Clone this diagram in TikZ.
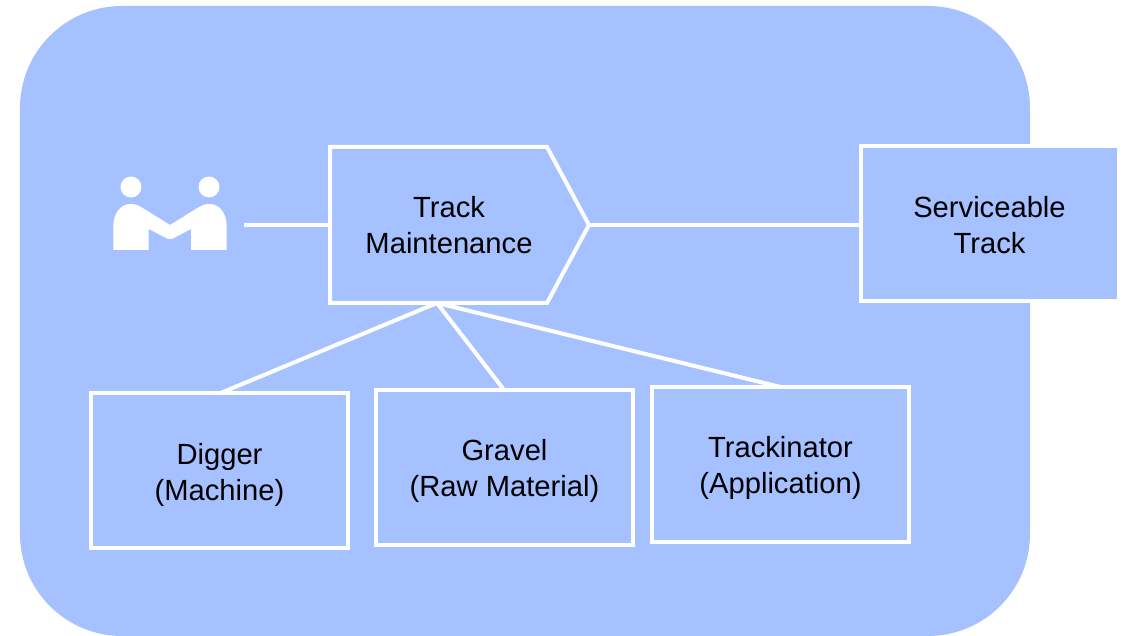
\documentclass[tikz,border=0pt]{standalone}
\usepackage{fontspec}
\setmainfont{Liberation Sans}
\definecolor{panelblue}{HTML}{A6C1FF}
\newcommand{\toppad}[1]{\rule{0pt}{#1}}
\tikzset{
  itembox/.style={draw=white,fill=panelblue,line width=0.04cm,outer sep=0pt,
    minimum width=2.57cm,minimum height=1.55cm,align=center,
    font=\fontsize{8.3pt}{10.24pt}\selectfont},
  whiteline/.style={draw=white,line width=0.04cm}
}
\begin{document}
\begin{tikzpicture}
\useasboundingbox (0,0) rectangle (11.25,6.36);
\fill[panelblue,rounded corners=1.02cm] (0.20,0) rectangle (10.30,6.30);
% two people shaking hands
\fill[white] (1.31,4.49) circle[radius=0.105];
\fill[white] (2.09,4.49) circle[radius=0.105];
\fill[white] (1.133,3.86) -- (1.133,4.10) .. controls (1.133,4.24) and (1.22,4.32) .. (1.30,4.32)
  .. controls (1.35,4.32) and (1.38,4.31) .. (1.41,4.29) -- (1.70,4.11) -- (1.99,4.29)
  .. controls (2.02,4.31) and (2.05,4.32) .. (2.10,4.32)
  .. controls (2.18,4.32) and (2.267,4.24) .. (2.267,4.10) -- (2.267,3.86) -- (1.91,3.86)
  -- (1.91,4.07) -- (1.72,3.97) -- (1.68,3.97) -- (1.487,4.07) -- (1.487,3.86) -- cycle;
% process arrow
\coordinate (tip) at (5.89,4.11);
\coordinate (base) at (4.37,3.33);
\coordinate (start) at (2.44,4.11);
\draw[whiteline,line join=miter] (3.30,4.89) -- (5.47,4.89) -- (tip) -- (5.47,3.33) -- (3.30,3.33) -- cycle;
\node[font=\fontsize{8.3pt}{10.24pt}\selectfont,align=center] (track) at (4.49,4.11) {Track\\Maintenance};
\coordinate (entry) at (3.30,4.11);
% output and resources
\node[itembox,minimum width=2.58cm] (serviceable) at (9.895,4.12) {\toppad{0.23cm}Serviceable\\Track};
\node[itembox] (digger) at (2.195,1.65) {\toppad{0.30cm}Digger\\(Machine)};
\node[itembox] (gravel) at (5.045,1.68) {\toppad{0.28cm}Gravel\\(Raw Material)};
\node[itembox] (trackinator) at (7.805,1.715) {\toppad{0.28cm}Trackinator\\(Application)};
\draw[whiteline] (start) -- (entry);
\draw[whiteline] (tip) -- (tip -| serviceable.west);
\draw[whiteline] (base) -- (digger.north);
\draw[whiteline] (base) -- (gravel.north);
\draw[whiteline] (base) -- (trackinator.north);
\end{tikzpicture}
\end{document}
